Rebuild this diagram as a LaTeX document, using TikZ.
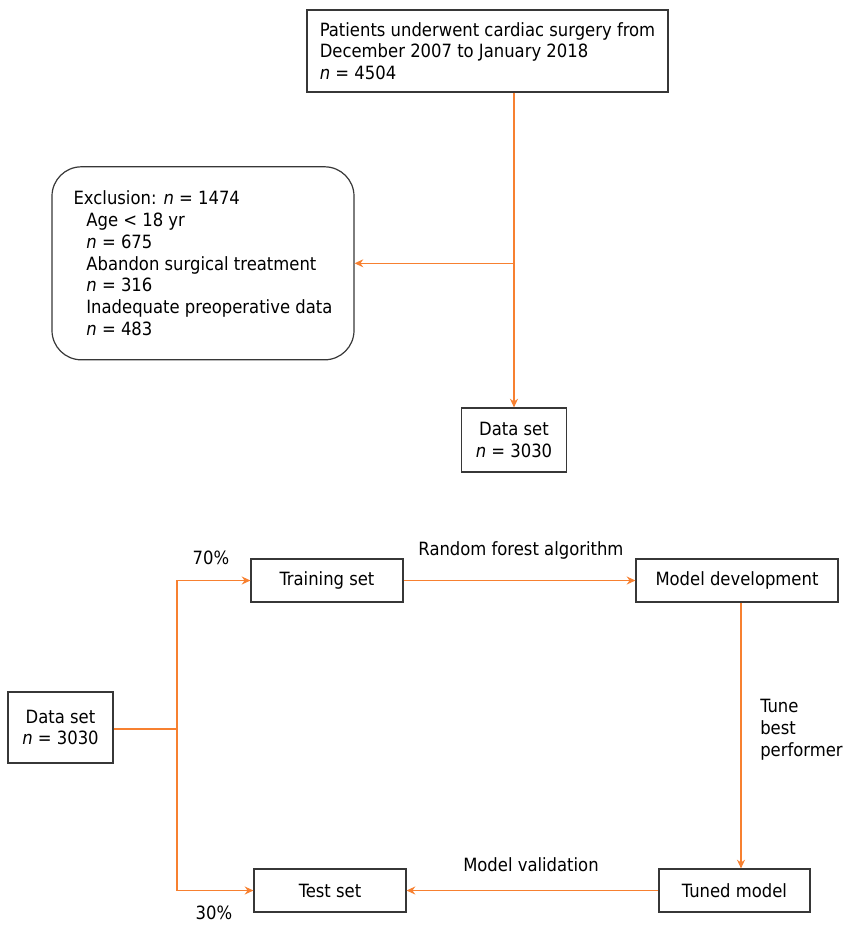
\documentclass[tikz,border=0pt]{standalone}
\usepackage{fontspec}
\setmainfont{DejaVu Sans Condensed}
\usepackage{tikz}
\usetikzlibrary{arrows.meta, positioning, calc}
\definecolor{floworange}{RGB}{247, 128, 48}
\definecolor{boxgray}{RGB}{55, 55, 55}

\begin{document}
\begin{tikzpicture}[
  x=0.75pt, y=-0.75pt,
  every node/.style={font=\fontsize{13.7}{16.3}\selectfont},
  flowbox/.style={draw=boxgray, line width=0.9pt, align=left, inner sep=0pt},
  flowarrow/.style={draw=floworange, line width=0.8pt, -{Stealth[length=6.5pt, width=6pt]}},
  flowline/.style={draw=floworange, line width=0.8pt}
]
  \useasboundingbox (0,0) rectangle (845,926);

  % Selection of patients
  \node[flowbox, minimum width=361*0.75pt, minimum height=82*0.75pt] (patients) at (487.5, 51)
    {Patients underwent cardiac surgery from\\December 2007 to January 2018\\\textit{n} = 4504};
  \node[flowbox, rounded corners=22pt, minimum width=302*0.75pt, minimum height=193*0.75pt] (exclusion) at (203, 263.3)
    {Exclusion: \textit{n} = 1474\\
     \hspace*{0.7em}Age < 18 yr\\
     \hspace*{0.7em}\textit{n} = 675\\
     \hspace*{0.7em}Abandon surgical treatment\\
     \hspace*{0.7em}\textit{n} = 316\\
     \hspace*{0.7em}Inadequate preoperative data\\
     \hspace*{0.7em}\textit{n} = 483};
  \node[flowbox, align=center, minimum width=105*0.75pt, minimum height=64*0.75pt] (dataA) at (514, 440)
    {Data set\\\textit{n} = 3030};

  \draw[flowarrow] (dataA.north |- patients.south) -- (dataA.north);
  \draw[flowarrow] (dataA.north |- exclusion.east) -- (exclusion.east);

  % Model building
  \node[flowbox, align=center, minimum width=105*0.75pt, minimum height=71*0.75pt] (dataB) at (60.5, 727.5)
    {Data set\\\textit{n} = 3030};
  \node[flowbox, minimum width=152*0.75pt, minimum height=43*0.75pt] (train) at (327, 580.5) {Training set};
  \node[flowbox, minimum width=152*0.75pt, minimum height=43*0.75pt] (test) at (330, 890.5) {Test set};
  \node[flowbox, minimum width=202*0.75pt, minimum height=43*0.75pt] (develop) at (737, 580.5) {Model development};
  \node[flowbox, minimum width=151*0.75pt, minimum height=43*0.75pt] (tuned) at (734.5, 890.5) {Tuned model};

  \coordinate (split) at (177, 729);
  \draw[flowline] (dataB.east |- split) -- (split);
  \draw[flowarrow] (split) |- (train.west);
  \draw[flowarrow] (split) |- (test.west);
  \draw[flowarrow] (train) -- (develop);
  \draw[flowarrow] ([xshift=3pt]develop.south) -- ([xshift=3pt]develop.south |- tuned.north);
  \draw[flowarrow] (tuned) -- (test);

  % Labels
  \node (pctTrain) at (211, 558) {70\%};
  \node (pctTest) at (214, 913) {30\%};
  \node (lblForest) at (521, 550) {Random forest algorithm};
  \node (lblValid) at (531, 865) {Model validation};
  \node[align=left, anchor=west, inner sep=0pt] (lblTune) at (760, 729.5) {Tune\\best\\performer};
\end{tikzpicture}
\end{document}
